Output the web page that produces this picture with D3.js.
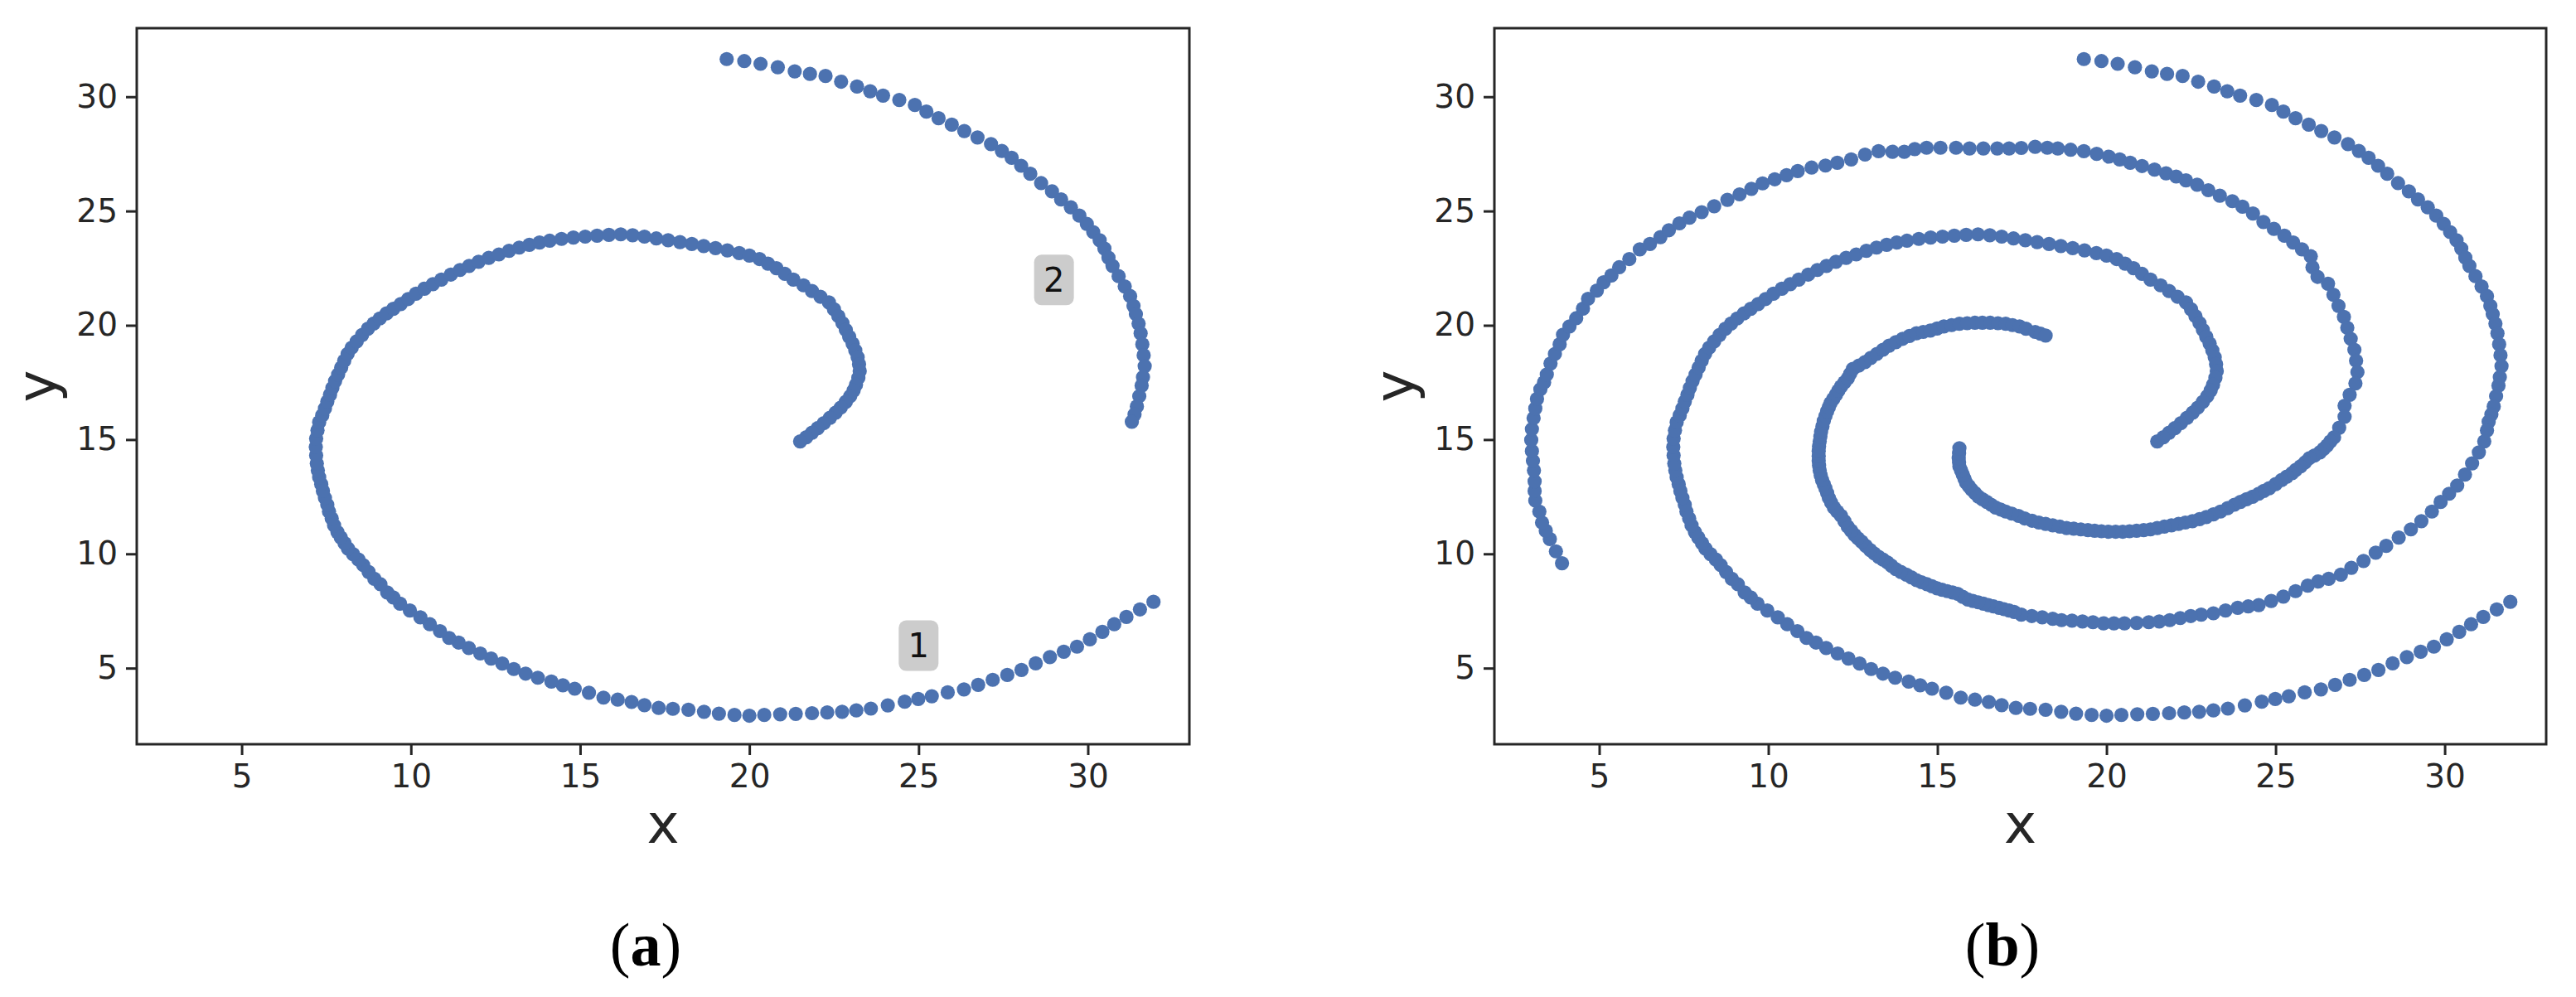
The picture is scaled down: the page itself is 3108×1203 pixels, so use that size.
<!DOCTYPE html>
<html>
<head>
<meta charset="utf-8">
<script src="https://cdn.jsdelivr.net/npm/d3@7"></script>
<style>
	html, body { margin: 0; padding: 0; background: #fff; }
	svg { display: block; }
</style>
</head>
<body>
<svg id="chart" width="3108" height="1203"></svg>
<script>
// spiral arm 1: outer end (bottom right) winding in to the centre
var spiralOne = [
	[31.94,7.90],[31.54,7.57],[31.14,7.24],[30.78,6.92],[30.43,6.59],[30.06,6.26],[29.68,5.94],[29.29,5.72],
	[28.88,5.48],[28.46,5.21],[28.04,4.92],[27.62,4.70],[27.19,4.49],[26.76,4.27],[26.34,4.07],[25.86,3.94],
	[25.39,3.77],[24.99,3.65],[24.59,3.53],[24.09,3.37],[23.59,3.23],[23.16,3.15],[22.74,3.09],[22.30,3.06],
	[21.85,3.03],[21.37,3.00],[20.91,2.98],[20.44,2.95],[20.00,2.92],[19.56,2.95],[19.10,3.01],[18.66,3.09],
	[18.20,3.18],[17.74,3.22],[17.32,3.26],[16.90,3.38],[16.52,3.52],[16.11,3.62],[15.69,3.71],[15.26,3.92],
	[14.84,4.10],[14.49,4.25],[14.15,4.41],[13.75,4.58],[13.39,4.76],[13.04,4.96],[12.70,5.20],[12.37,5.42],
	[12.05,5.64],[11.71,5.88],[11.41,6.12],[11.13,6.32],[10.86,6.62],[10.56,6.92],[10.28,7.22],[9.97,7.52],
	[9.68,7.82],[9.48,8.09],[9.30,8.31],[9.10,8.67],[8.92,8.91],[8.75,9.21],[8.59,9.51],[8.45,9.75],
	[8.29,9.99],[8.14,10.23],[8.04,10.47],[7.93,10.71],[7.83,10.95],[7.73,11.25],[7.66,11.55],[7.58,11.85],
	[7.53,12.15],[7.46,12.45],[7.40,12.75],[7.35,13.05],[7.29,13.35],[7.25,13.65],[7.22,13.95],[7.20,14.31],
	[7.19,14.68],[7.20,15.04],[7.24,15.40],[7.29,15.76],[7.38,16.06],[7.46,16.36],[7.53,16.66],[7.61,16.96],
	[7.68,17.26],[7.76,17.56],[7.85,17.85],[7.94,18.15],[8.03,18.45],[8.13,18.75],[8.25,19.02],[8.40,19.30],
	[8.56,19.58],[8.73,19.85],[8.90,20.08],[9.08,20.30],[9.28,20.52],[9.48,20.72],[9.70,20.93],[9.92,21.15],
	[10.15,21.38],[10.40,21.60],[10.65,21.80],[10.90,22.00],[11.18,22.22],[11.45,22.42],[11.72,22.60],[12.00,22.78],
	[12.30,22.95],[12.60,23.10],[12.90,23.26],[13.20,23.40],[13.50,23.52],[13.80,23.62],[14.10,23.70],[14.45,23.78],
	[14.80,23.84],[15.15,23.88],[15.50,23.92],[15.85,23.96],[16.20,23.98],[16.55,23.94],[16.90,23.88],[17.25,23.80],
	[17.60,23.72],[17.95,23.64],[18.30,23.56],[18.65,23.47],[19.00,23.38],[19.35,23.28],[19.70,23.16],[20.00,23.05],
	[20.30,22.90],[20.55,22.70],[20.80,22.50],[21.05,22.25],[21.30,22.00],[21.60,21.75],[21.85,21.50],[22.10,21.25],
	[22.35,21.00],[22.50,20.70],[22.63,20.40],[22.75,20.10],[22.85,19.80],[22.95,19.50],[23.05,19.20],[23.13,18.90],
	[23.20,18.60],[23.24,18.30],[23.26,18.00],[23.22,17.70],[23.15,17.40],[23.08,17.15],[22.98,16.90],[22.85,16.65],
	[22.70,16.40],[22.55,16.18],[22.38,15.95],[22.20,15.72],[22.02,15.50],[21.85,15.30],[21.68,15.10],[21.50,14.92]
];

// spiral arm 2, the part that is shown in both panels
var spiralTwoHead = [
	[19.33,31.65],[19.85,31.56],[20.33,31.44],[20.84,31.29],[21.34,31.11],[21.79,31.00],[22.25,30.91],[22.71,30.66],
	[23.18,30.45],[23.57,30.24],[23.95,30.05],[24.43,29.86],[24.89,29.64],[25.23,29.35],[25.59,29.06],[25.98,28.78],
	[26.35,28.50],[26.74,28.22],[27.14,27.93],[27.46,27.63],[27.75,27.33],[28.03,26.98],[28.30,26.63],[28.62,26.22],
	[28.94,25.86],[29.21,25.51],[29.50,25.16],[29.75,24.80],[29.97,24.44],[30.16,24.08],[30.35,23.72],[30.49,23.36],
	[30.61,22.96],[30.73,22.60],[30.91,22.15],[31.09,21.70],[31.25,21.28],[31.35,20.85],[31.42,20.49],[31.50,20.07],
	[31.56,19.65],[31.61,19.17],[31.65,18.69],[31.68,18.21],[31.63,17.73],[31.59,17.36],[31.52,16.90],[31.45,16.45],
	[31.38,16.10],[31.30,15.78]
];

// spiral arm 2, the rest (panel b only)
var spiralTwoTail = [
	[31.25,15.40],[31.17,14.92],[31.01,14.44],[30.81,13.96],[30.60,13.47],[30.37,12.99],[30.13,12.63],[29.88,12.27],
	[29.62,11.85],[29.31,11.43],[29.00,11.07],[28.64,10.71],[28.27,10.35],[27.96,10.05],[27.60,9.69],[27.24,9.39],
	[26.93,9.09],[26.57,8.91],[26.26,8.79],[25.95,8.61],[25.59,8.37],[25.23,8.13],[24.87,7.94],[24.50,7.76],
	[24.19,7.70],[23.88,7.64],[23.52,7.52],[23.16,7.40],[22.80,7.34],[22.49,7.28],[22.18,7.19],[21.87,7.10],
	[21.56,7.04],[21.25,7.01],[20.89,6.98],[20.53,6.96],[20.22,6.96],[19.91,6.96],[19.60,7.01],[19.29,7.04],
	[18.98,7.08],[18.67,7.10],[18.41,7.16],[18.10,7.22],[17.79,7.28],[17.48,7.34],[17.27,7.46],[17.12,7.52],
	[16.97,7.58],[16.82,7.64],[16.66,7.70],[16.51,7.76],[16.36,7.82],[16.21,7.88],[16.05,7.94],[15.90,8.00],
	[15.75,8.12],[15.60,8.25],[15.45,8.31],[15.29,8.37],[15.14,8.43],[14.99,8.49],[14.84,8.58],[14.69,8.67],
	[14.53,8.76],[14.38,8.85],[14.23,8.97],[14.08,9.09],[13.92,9.21],[13.77,9.33],[13.64,9.48],[13.52,9.63],
	[13.39,9.75],[13.26,9.87],[13.13,10.02],[13.01,10.17],[12.88,10.35],[12.76,10.53],[12.65,10.68],[12.55,10.83],
	[12.45,11.01],[12.35,11.19],[12.25,11.43],[12.15,11.67],[12.04,11.85],[11.94,12.03],[11.86,12.24],[11.79,12.45],
	[11.74,12.66],[11.69,12.87],[11.64,13.05],[11.59,13.23],[11.55,13.44],[11.52,13.65],[11.50,13.86],[11.49,14.07],
	[11.49,14.28],[11.49,14.50],[11.50,14.71],[11.52,14.92],[11.54,15.13],[11.56,15.34],[11.60,15.58],[11.64,15.82],
	[11.69,16.03],[11.74,16.24],[11.79,16.42],[11.84,16.60],[11.92,16.78],[12.00,16.96],[12.07,17.14],[12.15,17.32],
	[12.25,17.50],[12.35,17.68],[12.42,17.88],[12.50,18.09],[12.68,18.24],[12.86,18.39],[13.03,18.57],[13.21,18.75],
	[13.39,18.93],[13.57,19.11],[13.77,19.26],[13.97,19.41],[14.17,19.53],[14.38,19.65],[14.58,19.71],[14.79,19.77],
	[14.99,19.86],[15.19,19.95],[15.42,20.01],[15.65,20.07],[15.88,20.09],[16.11,20.11],[16.33,20.11],[16.56,20.11],
	[16.79,20.09],[17.02,20.07],[17.22,20.01],[17.43,19.95],[17.62,19.85],[17.89,19.71],[18.05,19.63],[18.20,19.55]
];

// spiral arm 3 (panel b only): outer end at the left, winding in to the centre
var spiralThree = [
	[3.90,9.59],[3.72,10.11],[3.54,10.65],[3.42,11.01],[3.31,11.37],[3.23,11.85],[3.11,12.33],[3.09,12.75],
	[3.09,13.17],[3.07,13.65],[3.04,14.07],[3.01,14.50],[2.99,14.98],[3.01,15.46],[3.06,15.94],[3.11,16.36],
	[3.16,16.78],[3.26,17.20],[3.37,17.50],[3.45,17.85],[3.56,18.33],[3.69,18.75],[3.83,19.17],[3.93,19.59],
	[4.12,19.95],[4.32,20.31],[4.52,20.73],[4.67,21.16],[4.93,21.52],[5.13,21.88],[5.36,22.18],[5.59,22.54],
	[5.89,22.90],[6.20,23.32],[6.50,23.56],[6.81,23.86],[7.06,24.16],[7.37,24.46],[7.67,24.71],[8.03,24.95],
	[8.40,25.21],[8.79,25.49],[9.15,25.73],[9.50,25.97],[9.83,26.21],[10.19,26.39],[10.54,26.57],[10.87,26.75],
	[11.28,26.90],[11.69,26.99],[12.04,27.11],[12.45,27.26],[12.86,27.47],[13.26,27.62],[13.67,27.59],[14.02,27.59],
	[14.33,27.71],[14.68,27.77],[15.09,27.77],[15.55,27.77],[15.95,27.74],[16.36,27.74],[16.77,27.74],[17.12,27.74],
	[17.48,27.76],[17.89,27.81],[18.25,27.77],[18.56,27.74],[18.94,27.68],[19.33,27.62],[19.71,27.50],[20.07,27.38],
	[20.39,27.26],[20.70,27.11],[21.05,26.97],[21.42,26.81],[21.76,26.65],[22.06,26.51],[22.35,26.34],[22.68,26.15],
	[23.01,25.91],[23.35,25.67],[23.72,25.43],[24.02,25.19],[24.33,24.89],[24.64,24.52],[24.95,24.22],[25.26,23.92],
	[25.52,23.62],[25.78,23.32],[26.04,23.02],[26.09,22.54],[26.24,22.12],[26.55,21.82],[26.71,21.34],[26.86,20.85],
	[27.02,20.37],[27.12,19.89],[27.22,19.41],[27.33,18.93],[27.38,18.45],[27.42,17.95],[27.36,17.46],[27.19,16.96],
	[27.04,16.48],[27.04,16.00],[26.88,15.52],[26.73,15.10],[26.62,14.92],[26.52,14.74],[26.42,14.59],[26.31,14.44],
	[26.15,14.30],[26.00,14.19],[25.87,14.00],[25.74,13.83],[25.60,13.68],[25.49,13.53],[25.33,13.38],[25.18,13.23],
	[25.00,13.05],[24.81,12.87],[24.65,12.75],[24.50,12.63],[24.32,12.50],[24.14,12.39],[23.96,12.27],[23.78,12.15],
	[23.58,12.00],[23.37,11.85],[23.16,11.73],[22.95,11.61],[22.75,11.52],[22.54,11.43],[22.33,11.37],[22.13,11.31],
	[21.92,11.25],[21.71,11.19],[21.50,11.13],[21.30,11.07],[21.10,11.04],[20.89,11.01],[20.68,10.99],[20.48,10.97],
	[20.27,10.97],[20.06,10.97],[19.85,10.99],[19.65,11.01],[19.45,11.04],[19.24,11.07],[19.03,11.10],[18.82,11.13],
	[18.62,11.19],[18.41,11.25],[18.20,11.31],[18.00,11.37],[17.80,11.45],[17.58,11.55],[17.40,11.66],[17.20,11.76],
	[17.02,11.85],[16.87,11.94],[16.72,12.03],[16.59,12.15],[16.46,12.27],[16.33,12.39],[16.21,12.51],[16.11,12.66],
	[16.01,12.81],[15.93,12.96],[15.85,13.11],[15.80,13.29],[15.75,13.47],[15.70,13.65],[15.65,13.83],[15.64,14.01],
	[15.63,14.19],[15.64,14.40],[15.65,14.62]
];

var tickValues = [5, 10, 15, 20, 25, 30];
var xDomain = [1.9, 33.0];
var yDomain = [1.67, 33.0];
var clusterLabels = [
	{ text: "1", x: 25, y: 6 },
	{ text: "2", x: 29, y: 22 }
];

var svg = d3.select("#chart"),
	plotTop = 34,
	plotBottom = 898,
	ink = "#262626",
	dotColor = "#4c72b0",
	sansFont = "'DejaVu Sans', sans-serif",
	serifFont = "'Liberation Serif', 'DejaVu Serif', serif";

svg.append("rect").attr("width", 3108).attr("height", 1203).attr("fill", "#fff");

function styleAxis(g) {
	g.select(".domain").remove();
	g.selectAll(".tick line").attr("stroke", ink).attr("stroke-width", 3);
	g.selectAll(".tick text")
		.attr("fill", ink)
		.style("font-family", sansFont)
		.style("font-size", "39px");
}

function drawPanel(left, right, points, labels, caption, captionX) {
	var x = d3.scaleLinear().domain(xDomain).range([left, right]),
		y = d3.scaleLinear().domain(yDomain).range([plotBottom, plotTop]),
		g = svg.append("g");

	g.append("g")
		.selectAll("circle")
		.data(points)
		.enter().append("circle")
		.attr("cx", function(d) { return x(d[0]); })
		.attr("cy", function(d) { return y(d[1]); })
		.attr("r", 8.6)
		.attr("fill", dotColor);

	var tags = g.selectAll(".tag")
		.data(labels)
		.enter().append("g")
		.attr("class", "tag")
		.attr("transform", function(d) { return "translate(" + x(d.x) + "," + y(d.y) + ")"; });

	tags.append("rect")
		.attr("x", -24).attr("y", -30)
		.attr("width", 48).attr("height", 61)
		.attr("rx", 9).attr("ry", 9)
		.attr("fill", "#cccccc");

	tags.append("text")
		.attr("text-anchor", "middle")
		.attr("dy", "0.36em")
		.attr("fill", "#111")
		.style("font-family", sansFont)
		.style("font-size", "40px")
		.text(function(d) { return d.text; });

	g.append("rect")
		.attr("x", left).attr("y", plotTop)
		.attr("width", right - left).attr("height", plotBottom - plotTop)
		.attr("fill", "none")
		.attr("stroke", ink)
		.attr("stroke-width", 3);

	g.append("g")
		.attr("transform", "translate(0," + plotBottom + ")")
		.call(d3.axisBottom(x).tickValues(tickValues).tickSize(13).tickSizeOuter(0).tickPadding(11))
		.call(styleAxis);

	g.append("g")
		.attr("transform", "translate(" + left + ",0)")
		.call(d3.axisLeft(y).tickValues(tickValues).tickSize(13).tickSizeOuter(0).tickPadding(10))
		.call(styleAxis);

	g.append("text")
		.attr("x", (left + right) / 2)
		.attr("y", 1017)
		.attr("text-anchor", "middle")
		.attr("fill", ink)
		.style("font-family", sansFont)
		.style("font-size", "66px")
		.text("x");

	g.append("text")
		.attr("transform", "translate(" + (left - 98) + "," + ((plotTop + plotBottom) / 2) + ") rotate(-90)")
		.attr("text-anchor", "middle")
		.attr("fill", ink)
		.style("font-family", sansFont)
		.style("font-size", "66px")
		.text("y");

	var cap = g.append("text")
		.attr("x", captionX)
		.attr("y", 1165)
		.attr("text-anchor", "middle")
		.attr("fill", "#000")
		.style("font-family", serifFont)
		.style("font-size", "74px");
	cap.append("tspan").text("(");
	cap.append("tspan").style("font-weight", "bold").text(caption);
	cap.append("tspan").text(")");
}

drawPanel(165, 1435, spiralOne.concat(spiralTwoHead), clusterLabels, "a", 779);
drawPanel(1803, 3072, spiralOne.concat(spiralTwoHead, spiralTwoTail, spiralThree), [], "b", 2416);
</script>
</body>
</html>
